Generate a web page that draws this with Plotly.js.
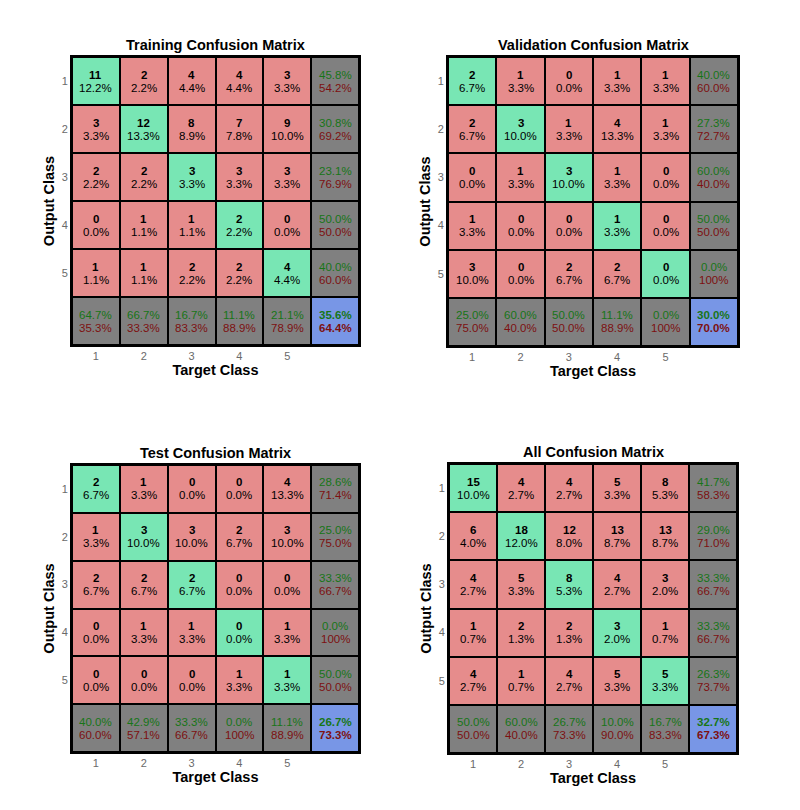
<!DOCTYPE html>
<html>
<head>
<meta charset="utf-8">
<script src="https://cdn.plot.ly/plotly-3.0.1.min.js"></script>
<style>html,body{margin:0;padding:0;background:#fff;}#chart{width:800px;height:810px;}</style>
</head>
<body>
<div id="chart"></div>
<script>
// ---- data ----
const classes = [1, 2, 3, 4, 5];
const titles = ["Training Confusion Matrix", "Validation Confusion Matrix", "Test Confusion Matrix", "All Confusion Matrix"];

const trainCounts = [
  [11, 2, 4, 4, 3],
  [3, 12, 8, 7, 9],
  [2, 2, 3, 3, 3],
  [0, 1, 1, 2, 0],
  [1, 1, 2, 2, 4]
];
const trainRowAcc = [45.8, 30.8, 23.1, 50.0, 40.0];
const trainColAcc = [64.7, 66.7, 16.7, 11.1, 21.1];
const trainAll = 35.6;

const valCounts = [
  [2, 1, 0, 1, 1],
  [2, 3, 1, 4, 1],
  [0, 1, 3, 1, 0],
  [1, 0, 0, 1, 0],
  [3, 0, 2, 2, 0]
];
const valRowAcc = [40.0, 27.3, 60.0, 50.0, 0.0];
const valColAcc = [25.0, 60.0, 50.0, 11.1, 0.0];
const valAll = 30.0;

const testCounts = [
  [2, 1, 0, 0, 4],
  [1, 3, 3, 2, 3],
  [2, 2, 2, 0, 0],
  [0, 1, 1, 0, 1],
  [0, 0, 0, 1, 1]
];
const testRowAcc = [28.6, 25.0, 33.3, 0.0, 50.0];
const testColAcc = [40.0, 42.9, 33.3, 0.0, 11.1];
const testAll = 26.7;

const allCounts = [
  [15, 4, 4, 5, 8],
  [6, 18, 12, 13, 13],
  [4, 5, 8, 4, 3],
  [1, 2, 2, 3, 1],
  [4, 1, 4, 5, 5]
];
const allRowAcc = [41.7, 29.0, 33.3, 33.3, 26.3];
const allColAcc = [50.0, 60.0, 26.7, 10.0, 16.7];
const allAll = 32.7;

const matrices = [
  {counts: trainCounts, row: trainRowAcc, col: trainColAcc, all: trainAll},
  {counts: valCounts, row: valRowAcc, col: valColAcc, all: valAll},
  {counts: testCounts, row: testRowAcc, col: testColAcc, all: testAll},
  {counts: allCounts, row: allRowAcc, col: allColAcc, all: allAll}
];

// ---- styling ----
const GREEN_TXT = "#177517";
const RED_TXT = "#7d1010";
const FONT = "Liberation Sans, Arial, Helvetica, sans-serif";
const CELL_FS = 11.5;
const LINE_OFF = 6.5;

function fmt(v) { return (v >= 100 ? "100" : v.toFixed(1)) + "%"; }

const xs = [1, 2, 3, 4, 5, 6];
const traces = [];
const annotations = [];

matrices.forEach((m, k) => {
  const ax = k === 0 ? "" : String(k + 1);
  const total = m.counts.flat().reduce((a, b) => a + b, 0);
  const z = [];
  function addPair(xv, yv, top, bottom, topColor, botColor, topBold, botBold) {
    annotations.push({
      xref: "x" + ax, yref: "y" + ax, x: xv, y: yv,
      text: topBold ? "<b>" + top + "</b>" : top,
      showarrow: false, yshift: LINE_OFF, xanchor: "center", yanchor: "middle",
      font: {family: FONT, size: CELL_FS, color: topColor}
    });
    annotations.push({
      xref: "x" + ax, yref: "y" + ax, x: xv, y: yv,
      text: botBold ? "<b>" + bottom + "</b>" : bottom,
      showarrow: false, yshift: -LINE_OFF, xanchor: "center", yanchor: "middle",
      font: {family: FONT, size: CELL_FS, color: botColor}
    });
  }
  for (let i = 0; i < 6; i++) {
    const zr = [];
    for (let j = 0; j < 6; j++) {
      const xv = xs[j], yv = xs[i];
      if (i < 5 && j < 5) {
        zr.push(i === j ? 1 : 0);
        const c = m.counts[i][j];
        addPair(xv, yv, String(c), (100 * c / total).toFixed(1) + "%", "#000", "#000", true, false);
      } else {
        const g = (i === 5 && j === 5) ? m.all : (j === 5 ? m.row[i] : m.col[j]);
        const r = Math.round((100 - g) * 10) / 10;
        const overall = (i === 5 && j === 5);
        zr.push(overall ? 3 : 2);
        addPair(xv, yv, fmt(g), fmt(r), GREEN_TXT, RED_TXT, overall, overall);
      }
    }
    z.push(zr);
  }
  traces.push({
    type: "heatmap",
    x: xs, y: xs, z: z,
    zmin: 0, zmax: 3,
    colorscale: [[0, "#e68c8c"], [0.25, "#e68c8c"], [0.25, "#78e6b4"], [0.5, "#78e6b4"], [0.5, "#808080"], [0.75, "#808080"], [0.75, "#7896e6"], [1, "#7896e6"]],
    showscale: false,
    xgap: 2, ygap: 2,
    hoverinfo: "skip",
    xaxis: "x" + ax, yaxis: "y" + ax
  });
});

// panel domains (pixels -> paper fractions)
const W = 800, H = 810;
const panels = [
  {l: 72, r: 359, t: 57, b: 345},
  {l: 448, r: 738, t: 57, b: 346},
  {l: 72, r: 359, t: 465, b: 752},
  {l: 449, r: 737, t: 464, b: 753}
];

const layout = {
  width: W, height: H,
  margin: {l: 0, r: 0, t: 0, b: 0},
  paper_bgcolor: "#ffffff",
  plot_bgcolor: "#000000",
  showlegend: false,
  font: {family: FONT},
  annotations: annotations
};

panels.forEach((p, k) => {
  const ax = k === 0 ? "" : String(k + 1);
  const xd = [p.l / W, p.r / W];
  const yd = [1 - p.b / H, 1 - p.t / H];
  layout["xaxis" + ax] = {
    domain: xd, anchor: "y" + ax, range: [0.5, 6.5],
    tickvals: classes, ticktext: classes.map(String),
    tickfont: {family: FONT, size: 11, color: "#6a6a6a"},
    ticks: "", ticklen: 0, showgrid: false, zeroline: false,
    showline: true, linecolor: "#000", linewidth: 2, mirror: true,
    title: {text: "<b>Target Class</b>", font: {family: FONT, size: 14.5, color: "#000"}, standoff: 0},
    fixedrange: true
  };
  layout["yaxis" + ax] = {
    domain: yd, anchor: "x" + ax, range: [6.5, 0.5],
    tickvals: classes, ticktext: classes.map(String),
    tickfont: {family: FONT, size: 11, color: "#6a6a6a"},
    ticks: "", ticklen: 0, showgrid: false, zeroline: false,
    showline: true, linecolor: "#000", linewidth: 2, mirror: true,
    title: {text: "<b>Output Class</b>", font: {family: FONT, size: 14.5, color: "#000"}, standoff: 4},
    fixedrange: true
  };
  layout.annotations.push({
    text: "<b>" + titles[k] + "</b>",
    xref: "paper", yref: "paper",
    x: (xd[0] + xd[1]) / 2, y: yd[1],
    xanchor: "center", yanchor: "bottom", yshift: 2,
    showarrow: false,
    font: {family: FONT, size: 14.5, color: "#000"}
  });
});

Plotly.newPlot("chart", traces, layout, {displayModeBar: false, staticPlot: true});
</script>
</body>
</html>
